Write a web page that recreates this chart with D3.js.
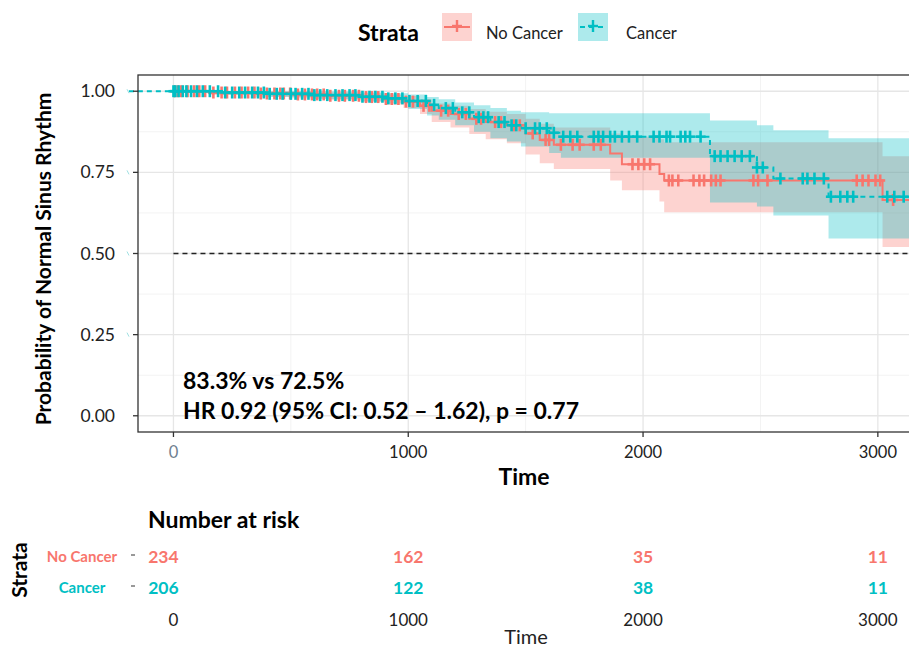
<!DOCTYPE html>
<html>
<head>
<meta charset="utf-8">
<script src="https://d3js.org/d3.v7.min.js"></script>
<style>
  body { margin: 0; background: #fff; }
  text { font-family: Lato, "Open Sans", sans-serif; }
</style>
</head>
<body>
<script>
// ---- data ----
var groups = ["No Cancer", "Cancer"];
var colors = ["#F8766D", "#00BFC4"];

// No Cancer: step times, survival, CI lower / upper
var ncTime  = [0, 150, 350, 500, 650, 800, 900, 980, 1050, 1100, 1180, 1260, 1330, 1420, 1500, 1560, 1620, 1860, 1910, 2070, 2090, 3020];
var ncSurv  = [1, .996, .993, .990, .986, .982, .976, .968, .955, .940, .930, .915, .905, .895, .870, .850, .835, .808, .775, .745, .725, .665];
var ncLower = [1, .988, .983, .978, .972, .966, .958, .948, .930, .905, .888, .868, .852, .840, .805, .778, .760, .725, .695, .660, .627, .520];
var ncUpper = [1, 1, 1, .999, .997, .994, .990, .985, .975, .962, .955, .945, .937, .930, .915, .900, .888, .870, .860, .852, .843, .800];

// Cancer
var caTime  = [0, 200, 400, 600, 800, 900, 1000, 1080, 1130, 1200, 1280, 1350, 1420, 1480, 1600, 1650, 2285, 2485, 2555, 2790];
var caSurv  = [1, .996, .992, .988, .983, .978, .970, .958, .948, .935, .920, .905, .895, .886, .872, .860, .800, .765, .731, .675];
var caLower = [1, .988, .982, .976, .969, .962, .945, .925, .912, .895, .875, .855, .845, .830, .810, .795, .657, .645, .617, .546];
var caUpper = [1, 1, 1, .999, .997, .994, .990, .982, .975, .965, .957, .948, .940, .935, .932, .932, .910, .895, .880, .855];

// censored observation times
var ncCensor = [5, 18, 32, 60, 88, 110, 135, 170, 205, 228, 262, 290, 318, 345, 372, 398, 430, 455, 470, 497, 530, 560, 590, 612, 640, 668, 705, 730, 765, 790, 820, 845, 872, 905, 930, 958, 990,
  1020, 1065, 1090, 1140, 1170, 1215, 1245, 1290, 1310, 1370, 1395, 1450, 1475, 1530, 1585, 1600, 1650, 1700, 1730, 1790, 1820,
  1955, 1980, 2005, 2030, 2110, 2125, 2150, 2215, 2240, 2260, 2290, 2310, 2330, 2470, 2490, 2530, 2910, 2935, 2960, 2990, 3010, 3065];
var caCensor = [0, 8, 22, 40, 55, 75, 100, 125, 155, 190, 220, 250, 280, 305, 335, 360, 385, 410, 440, 465, 500, 520, 548, 575, 600, 625, 655, 690, 720, 750, 775, 805, 835, 860, 890, 915, 945, 975,
  1005, 1040, 1075, 1110, 1160, 1190, 1230, 1260, 1300, 1320, 1340, 1385, 1410, 1440, 1460, 1500, 1540, 1560, 1590, 1620, 1660, 1690, 1720,
  1790, 1810, 1830, 1860, 1880, 1910, 1940, 1975, 2045, 2070, 2100, 2115, 2160, 2180, 2200, 2245, 2305, 2330, 2360, 2390, 2420, 2455,
  2485, 2510, 2585, 2680, 2700, 2730, 2770, 2800, 2840, 2870, 2895, 3040, 3070, 3110];

var yTicks = [0, 0.25, 0.5, 0.75, 1];
var xTicks = [0, 1000, 2000, 3000];
var riskTimes = [0, 1000, 2000, 3000];
var ncRisk = [234, 162, 35, 11];
var caRisk = [206, 122, 38, 11];

// ---- layout ----
var W = 909, H = 649;
var svg = d3.select("body").append("svg").attr("width", W).attr("height", H);

var x = d3.scaleLinear().domain([-151, 3171]).range([138, 918]);
var y = d3.scaleLinear().domain([-0.05, 1.05]).range([432, 75]);
var pLeft = 138, pTop = 75, pBottom = 432, pRight = 918;

// grid
var grid = svg.append("g");
var yMinor = [0.125, 0.375, 0.625, 0.875];
var xMinor = [500, 1500, 2500];
grid.selectAll(".ym").data(yMinor).join("line")
    .attr("x1", pLeft).attr("x2", pRight).attr("y1", d => y(d)).attr("y2", d => y(d))
    .attr("stroke", "#f3f3f3").attr("stroke-width", 1);
grid.selectAll(".xm").data(xMinor).join("line")
    .attr("y1", pTop).attr("y2", pBottom).attr("x1", d => x(d)).attr("x2", d => x(d))
    .attr("stroke", "#f3f3f3").attr("stroke-width", 1);
grid.selectAll(".yM").data(yTicks).join("line")
    .attr("x1", pLeft).attr("x2", pRight).attr("y1", d => y(d)).attr("y2", d => y(d))
    .attr("stroke", "#e6e6e6").attr("stroke-width", 1.3);
grid.selectAll(".xM").data(xTicks).join("line")
    .attr("y1", pTop).attr("y2", pBottom).attr("x1", d => x(d)).attr("x2", d => x(d))
    .attr("stroke", "#e6e6e6").attr("stroke-width", 1.3);

// build step series
function series(t, s, lo, hi) {
    var pts = t.map((d, i) => ({t: d, s: s[i], lo: lo[i], hi: hi[i]}));
    var last = pts[pts.length - 1];
    pts.push({t: 3171, s: last.s, lo: last.lo, hi: last.hi});
    return pts;
}
var data = [series(ncTime, ncSurv, ncLower, ncUpper), series(caTime, caSurv, caLower, caUpper)];
var censors = [ncCensor, caCensor];

function survAt(pts, t) {
    var v = pts[0].s;
    pts.forEach(p => { if (p.t <= t) v = p.s; });
    return v;
}

var area = d3.area().curve(d3.curveStepAfter)
    .x(d => x(d.t)).y0(d => y(d.lo)).y1(d => y(d.hi));
var line = d3.line().curve(d3.curveStepAfter)
    .x(d => x(d.t)).y(d => y(d.s));

var plot = svg.append("g");
data.forEach((pts, i) => {
    plot.append("path").attr("d", area(pts))
        .attr("fill", colors[i]).attr("fill-opacity", 0.32);
});

// median reference line
plot.append("line")
    .attr("x1", x(0)).attr("x2", pRight).attr("y1", y(0.5)).attr("y2", y(0.5))
    .attr("stroke", "#222").attr("stroke-width", 1.3).attr("stroke-dasharray", "5,4");

data.forEach((pts, i) => {
    var p = pts.slice();
    if (i === 1) p = [{t: -190, s: 1}].concat(p);
    plot.append("path").attr("d", line(p))
        .attr("fill", "none").attr("stroke", colors[i]).attr("stroke-width", 2)
        .attr("stroke-dasharray", i === 1 ? "5,4" : null);
});

// censor marks
data.forEach((pts, i) => {
    var g = plot.append("g").attr("stroke", colors[i]).attr("stroke-width", 2.6);
    censors[i].forEach(t => {
        var cx = x(t), cy = y(survAt(pts, t));
        g.append("line").attr("x1", cx - 5).attr("x2", cx + 5).attr("y1", cy).attr("y2", cy);
        g.append("line").attr("x1", cx).attr("x2", cx).attr("y1", cy - 6).attr("y2", cy + 6);
    });
});

// panel border
svg.append("rect").attr("x", pLeft).attr("y", pTop)
    .attr("width", pRight - pLeft).attr("height", pBottom - pTop)
    .attr("fill", "none").attr("stroke", "#333").attr("stroke-width", 1.3);

// axes
var yAxis = svg.append("g");
yAxis.selectAll("line").data(yTicks).join("line")
    .attr("x1", pLeft - 5).attr("x2", pLeft).attr("y1", d => y(d)).attr("y2", d => y(d))
    .attr("stroke", "#333").attr("stroke-width", 1.3);
yAxis.selectAll(".cy").data(yTicks.filter(d => d > 0)).join("line")
    .attr("x1", 127).attr("x2", 129).attr("y1", d => y(d) - 2).attr("y2", d => y(d) + 2)
    .attr("stroke", "#9fe0e2").attr("stroke-width", 1);
yAxis.selectAll("text").data(yTicks).join("text")
    .attr("x", 115).attr("y", d => y(d)).attr("dy", "0.35em")
    .attr("text-anchor", "end").attr("font-size", 17.5).attr("fill", "#222")
    .text(d => d3.format(".2f")(d));

var xAxis = svg.append("g");
xAxis.selectAll("line").data(xTicks).join("line")
    .attr("x1", d => x(d)).attr("x2", d => x(d)).attr("y1", pBottom).attr("y2", pBottom + 5)
    .attr("stroke", "#333").attr("stroke-width", 1.3);
xAxis.selectAll("text").data(xTicks).join("text")
    .attr("x", d => x(d)).attr("y", 452).attr("dy", "0.35em")
    .attr("text-anchor", "middle").attr("font-size", 16.5)
    .attr("fill", d => d === 0 ? "#6f7f90" : "#222")
    .text(d => d);

svg.append("text").attr("x", 524).attr("y", 477).attr("dy", "0.35em")
    .attr("text-anchor", "middle").attr("font-size", 23).attr("font-weight", "bold")
    .text("Time");
svg.append("text")
    .attr("transform", "translate(44,259) rotate(-90)").attr("dy", "0.35em")
    .attr("text-anchor", "middle").attr("font-size", 21).attr("font-weight", "bold")
    .text("Probability of Normal Sinus Rhythm");

// annotation
svg.append("text").attr("x", 183).attr("y", 381).attr("dy", "0.35em")
    .attr("font-size", 23).attr("font-weight", "bold").text("83.3% vs 72.5%");
svg.append("text").attr("x", 183).attr("y", 411).attr("dy", "0.35em")
    .attr("font-size", 23).attr("font-weight", "bold").text("HR 0.92 (95% CI: 0.52 \u2013 1.62), p = 0.77");

// legend
var leg = svg.append("g");
leg.append("text").attr("x", 358).attr("y", 33).attr("dy", "0.35em")
    .attr("font-size", 23).attr("font-weight", "bold").text("Strata");
var legX = [442, 578], legTx = [486, 626];
groups.forEach((gname, i) => {
    leg.append("rect").attr("x", legX[i]).attr("y", 13).attr("width", 30).attr("height", 28)
        .attr("fill", colors[i]).attr("fill-opacity", 0.32);
    leg.append("line").attr("x1", legX[i] + 2).attr("x2", legX[i] + 28).attr("y1", 27).attr("y2", 27)
        .attr("stroke", colors[i]).attr("stroke-width", 2)
        .attr("stroke-dasharray", i === 1 ? "5,4" : null);
    leg.append("line").attr("x1", legX[i] + 10).attr("x2", legX[i] + 20).attr("y1", 26).attr("y2", 26)
        .attr("stroke", colors[i]).attr("stroke-width", 2.4);
    leg.append("line").attr("x1", legX[i] + 15).attr("x2", legX[i] + 15).attr("y1", 20).attr("y2", 32)
        .attr("stroke", colors[i]).attr("stroke-width", 2.4);
    leg.append("text").attr("x", legTx[i]).attr("y", 33).attr("dy", "0.35em")
        .attr("font-size", 16.5).attr("fill", "#222").text(gname);
});

// risk table
var risk = svg.append("g");
risk.append("text").attr("x", 148).attr("y", 520).attr("dy", "0.35em")
    .attr("font-size", 23).attr("font-weight", "bold").text("Number at risk");
var rowY = [557, 588];
var riskVals = [ncRisk, caRisk];
groups.forEach((gname, i) => {
    risk.append("text").attr("x", 82).attr("y", rowY[i]).attr("dy", "0.35em")
        .attr("text-anchor", "middle").attr("font-size", 15).attr("font-weight", "bold")
        .attr("fill", colors[i]).text(gname);
    risk.append("line").attr("x1", 131).attr("x2", 135).attr("y1", rowY[i] - 2).attr("y2", rowY[i] - 2)
        .attr("stroke", "#333").attr("stroke-width", 1);
    risk.selectAll(".r" + i).data(riskTimes).join("text")
        .attr("x", d => x(d) - (d === 0 ? 10 : 0)).attr("y", rowY[i]).attr("dy", "0.35em")
        .attr("text-anchor", "middle").attr("font-size", 17.5).attr("font-weight", "bold")
        .attr("fill", colors[i]).text((d, j) => riskVals[i][j]);
});
risk.selectAll(".rt").data(riskTimes).join("text")
    .attr("x", d => x(d)).attr("y", 620).attr("dy", "0.35em")
    .attr("text-anchor", "middle").attr("font-size", 17).attr("fill", "#222")
    .text(d => d);
risk.append("text").attr("x", 526).attr("y", 637).attr("dy", "0.35em")
    .attr("text-anchor", "middle").attr("font-size", 20).attr("fill", "#222").text("Time");
risk.append("text")
    .attr("transform", "translate(20,570) rotate(-90)").attr("dy", "0.35em")
    .attr("text-anchor", "middle").attr("font-size", 21).attr("font-weight", "bold")
    .text("Strata");
</script>
</body>
</html>
